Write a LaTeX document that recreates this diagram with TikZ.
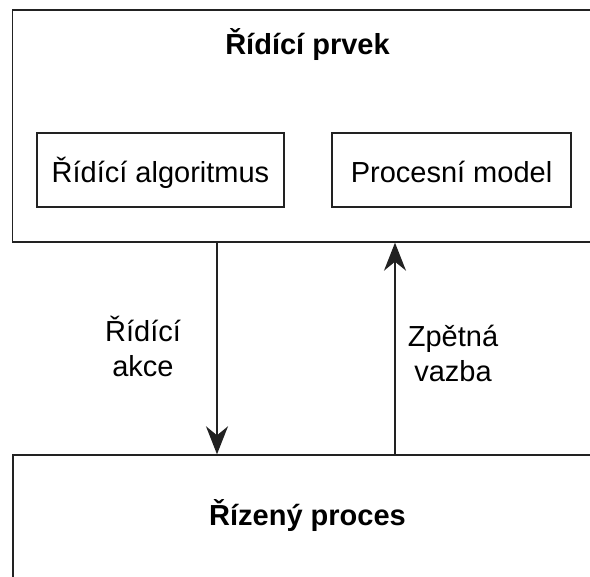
\documentclass[tikz,border=0pt]{standalone}
\usepackage{fontspec}
\setmainfont{Liberation Sans}
\usetikzlibrary{arrows.meta}
\definecolor{ink}{HTML}{222222}
\tikzset{
  box/.style={draw=ink, line width=1.4pt, inner sep=0pt, fill=white},
  txt/.style={font=\fontsize{29}{35}\selectfont, inner sep=0pt, text=black},
  bold/.style={txt, font=\fontsize{29}{35}\selectfont\bfseries},
  part/.style={box, txt, minimum height=74pt, text height=25pt, text depth=0pt},
  flow/.style={draw=ink, line width=1.4pt,
    -{Stealth[length=28pt, width=22pt, inset=9pt]}},
}
\begin{document}
\begin{tikzpicture}[x=1pt, y=-1pt]
  \useasboundingbox (0,0) rectangle (590,577);
  \clip (0,0) rectangle (590,577);
  % controller block and its parts
  \node[box, minimum width=591pt, minimum height=232pt] (ctrl) at (308,126) {};
  \node[bold, anchor=base] (ctrltitle) at (307.5,55) {Řídící prvek};
  \node[part, minimum width=247pt] (alg) at (160.5,170) {Řídící algoritmus};
  \node[part, minimum width=239pt] (model) at (451.5,170) {Procesní model};
  % controlled process
  \node[box, minimum width=591pt, minimum height=180pt] (proc) at (308.5,545) {};
  \node[bold, anchor=base] (proctitle) at (307.5,526) {Řízený proces};
  % control action and feedback
  \coordinate (actx) at (217,0);
  \coordinate (fbx) at (395,0);
  \draw[flow] (ctrl.south -| actx) -- (proc.north -| actx);
  \draw[flow] (proc.north -| fbx) -- (ctrl.south -| fbx);
  \node[txt, align=center, anchor=base] (actlabel) at (143,377) {Řídící\\akce};
  \node[txt, align=center, anchor=base] (fblabel) at (453,382) {Zpětná\\vazba};
\end{tikzpicture}
\end{document}
